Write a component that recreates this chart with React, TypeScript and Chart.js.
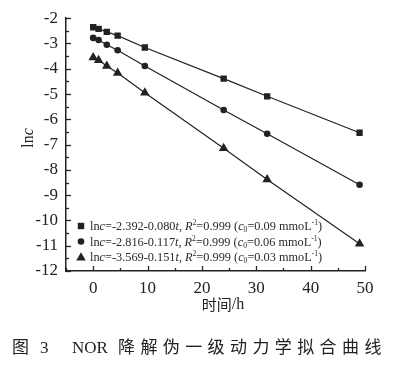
import React, { useEffect, useRef } from "react";
import { Chart, registerables } from "chart.js";

Chart.register(...registerables);

// ---- Data ----
const times = [0, 1, 2.5, 4.5, 9.5, 24, 32, 49];
const lnc009 = [-2.36, -2.42, -2.54, -2.69, -3.16, -4.39, -5.09, -6.53];
const lnc006 = [-2.78, -2.86, -3.05, -3.27, -3.89, -5.63, -6.57, -8.59];
const lnc003 = [-3.55, -3.66, -3.89, -4.17, -4.95, -7.14, -8.38, -10.92];

const intercepts = ["-2.392", "-2.816", "-3.569"];
const slopes = ["0.080", "0.117", "0.151"];
const r2Values = ["0.999", "0.999", "0.999"];
const c0Values = ["0.09", "0.06", "0.03"];
const markerStyles = ["rect", "circle", "triangle"];

const xTickValues = [0, 10, 20, 30, 40, 50];
const yTickValues = [-12, -11, -10, -9, -8, -7, -6, -5, -4, -3, -2];

const INK = "#222";
const SERIF = "'Liberation Serif', 'DejaVu Serif', serif";
const CJK = "'Noto Sans CJK SC', sans-serif";

function drawMarker(ctx: CanvasRenderingContext2D, style: string, x: number, y: number) {
  ctx.save();
  ctx.fillStyle = INK;
  ctx.beginPath();
  if (style === "rect") {
    ctx.rect(x - 3.2, y - 3.2, 6.4, 6.4);
  } else if (style === "circle") {
    ctx.arc(x, y, 3.3, 0, Math.PI * 2);
  } else {
    const r = 5.5;
    for (let k = 0; k < 3; k++) {
      const a = (k * 2 * Math.PI) / 3;
      const px = x + Math.sin(a) * r;
      const py = y - Math.cos(a) * r + 0.8;
      if (k === 0) ctx.moveTo(px, py);
      else ctx.lineTo(px, py);
    }
    ctx.closePath();
  }
  ctx.fill();
  ctx.restore();
}

type Part = { t: string; s: "n" | "i" | "sup" | "sub" };

function drawParts(ctx: CanvasRenderingContext2D, parts: Part[], x: number, y: number, size: number) {
  let cx = x;
  ctx.textBaseline = "alphabetic";
  ctx.textAlign = "left";
  for (const p of parts) {
    let font = `${size}px ${SERIF}`;
    let dy = 0;
    if (p.s === "i") font = `italic ${size}px ${SERIF}`;
    if (p.s === "sup") {
      font = `${size * 0.62}px ${SERIF}`;
      dy = -size * 0.38;
    }
    if (p.s === "sub") {
      font = `${size * 0.62}px ${SERIF}`;
      dy = size * 0.2;
    }
    ctx.font = font;
    ctx.fillText(p.t, cx, y + dy);
    cx += ctx.measureText(p.t).width;
  }
}

const overlayPlugin = {
  id: "overlay",
  afterDraw(chart: any) {
    const { ctx, chartArea, scales } = chart;
    const xs = scales.x;
    const ys = scales.y;
    ctx.save();
    ctx.strokeStyle = INK;
    ctx.lineWidth = 1.3;
    // inward ticks on y
    for (let v = -12; v <= -2 + 1e-6; v += 0.5) {
      const major = Math.abs(v - Math.round(v)) < 1e-6;
      const py = Math.round(ys.getPixelForValue(v)) + 0.5;
      ctx.beginPath();
      ctx.moveTo(chartArea.left, py);
      ctx.lineTo(chartArea.left + (major ? 5 : 3), py);
      ctx.stroke();
    }
    // inward ticks on x
    for (let v = -5; v <= 50; v += 5) {
      const major = v % 10 === 0;
      const px = Math.round(xs.getPixelForValue(v)) + 0.5;
      ctx.beginPath();
      ctx.moveTo(px, chartArea.bottom);
      ctx.lineTo(px, chartArea.bottom - (major ? 5 : 3));
      ctx.stroke();
    }
    ctx.restore();

    // legend
    ctx.save();
    ctx.fillStyle = "#2a2a2a";
    for (let i = 0; i < 3; i++) {
      const yy = chartArea.bottom - 45 + i * 15.5;
      drawMarker(ctx, markerStyles[i], chartArea.left + 15, yy);
      const parts: Part[] = [
        { t: "ln", s: "n" },
        { t: "c", s: "i" },
        { t: "=" + intercepts[i] + "-" + slopes[i], s: "n" },
        { t: "t", s: "i" },
        { t: ", ", s: "n" },
        { t: "R", s: "i" },
        { t: "2", s: "sup" },
        { t: "=" + r2Values[i] + " (", s: "n" },
        { t: "c", s: "i" },
        { t: "0", s: "sub" },
        { t: "=" + c0Values[i] + " mmoL", s: "n" },
        { t: "-1", s: "sup" },
        { t: ")", s: "n" },
      ];
      drawParts(ctx, parts, chartArea.left + 24, yy + 4, 12.3);
    }
    ctx.restore();

    // y title
    ctx.save();
    ctx.fillStyle = INK;
    ctx.translate(28, 138);
    ctx.rotate(-Math.PI / 2);
    ctx.font = `16px ${SERIF}`;
    const w1 = ctx.measureText("ln").width;
    ctx.font = `italic 16px ${SERIF}`;
    const w2 = ctx.measureText("c").width;
    drawParts(ctx, [{ t: "ln", s: "n" }, { t: "c", s: "i" }], -(w1 + w2) / 2, 5, 16);
    ctx.restore();

    // x title
    ctx.save();
    ctx.fillStyle = INK;
    ctx.textBaseline = "middle";
    ctx.font = `15px ${CJK}`;
    const a = ctx.measureText("时间").width;
    ctx.font = `16px ${SERIF}`;
    const b = ctx.measureText("/h").width;
    const sx = 223 - (a + b) / 2;
    ctx.font = `15px ${CJK}`;
    ctx.fillText("时间", sx, 304);
    ctx.font = `16px ${SERIF}`;
    ctx.fillText("/h", sx + a, 305);
    ctx.restore();
  },
};

function makeData(ys: number[]) {
  return times.map((t, i) => ({ x: t, y: ys[i] }));
}

export default function App() {
  const ref = useRef<HTMLCanvasElement>(null);

  useEffect(() => {
    if (!ref.current) return;
    const common = {
      showLine: true,
      borderColor: INK,
      backgroundColor: INK,
      borderWidth: 1.2,
      pointBorderWidth: 0,
      tension: 0,
    };
    const chart = new Chart(ref.current, {
      type: "scatter",
      data: {
        datasets: [
          { ...common, label: "0.09", data: makeData(lnc009), pointStyle: "rect", pointRadius: 4.5 },
          { ...common, label: "0.06", data: makeData(lnc006), pointStyle: "circle", pointRadius: 3.3 },
          { ...common, label: "0.03", data: makeData(lnc003), pointStyle: "triangle", pointRadius: 5.5 },
        ],
      },
      options: {
        animation: false,
        responsive: false,
        layout: { padding: { left: 0, right: 33, top: 12, bottom: 0 } },
        plugins: { legend: { display: false }, tooltip: { enabled: false } },
        scales: {
          x: {
            type: "linear",
            min: -5,
            max: 50,
            grid: { display: false, drawTicks: false },
            border: { display: true, color: INK, width: 1.5 },
            ticks: {
              padding: 7,
              color: INK,
              font: { family: SERIF, size: 17 },
            },
            afterBuildTicks: (scale: any) => {
              scale.ticks = xTickValues.map((v) => ({ value: v }));
            },
            afterFit: (scale: any) => {
              scale.height = 100;
            },
          },
          y: {
            type: "linear",
            min: -12,
            max: -2,
            grid: { display: false, drawTicks: false },
            border: { display: true, color: INK, width: 1.5 },
            ticks: {
              padding: 8,
              color: INK,
              font: { family: SERIF, size: 17 },
            },
            afterBuildTicks: (scale: any) => {
              scale.ticks = yTickValues.map((v) => ({ value: v }));
            },
            afterFit: (scale: any) => {
              scale.width = 66;
            },
          },
        },
      } as any,
      plugins: [overlayPlugin],
    });
    return () => chart.destroy();
  }, []);

  const cap: React.CSSProperties = {
    position: "absolute",
    top: 337,
    fontSize: 17,
    lineHeight: "22px",
    color: INK,
    fontFamily: `${SERIF.split(",")[0]}, ${CJK}`,
    whiteSpace: "nowrap",
  };

  return (
    <div style={{ position: "fixed", left: 0, top: 0, width: 398, height: 371, background: "#fff" }}>
      <canvas ref={ref} width={398} height={371} style={{ display: "block", width: 398, height: 371 }} />
      <span style={{ ...cap, left: 12 }}>图</span>
      <span style={{ ...cap, left: 40 }}>3</span>
      <span style={{ ...cap, left: 72 }}>NOR</span>
      <span style={{ ...cap, left: 118, letterSpacing: "5.4px" }}>降解伪一级动力学拟合曲线</span>
    </div>
  );
}
